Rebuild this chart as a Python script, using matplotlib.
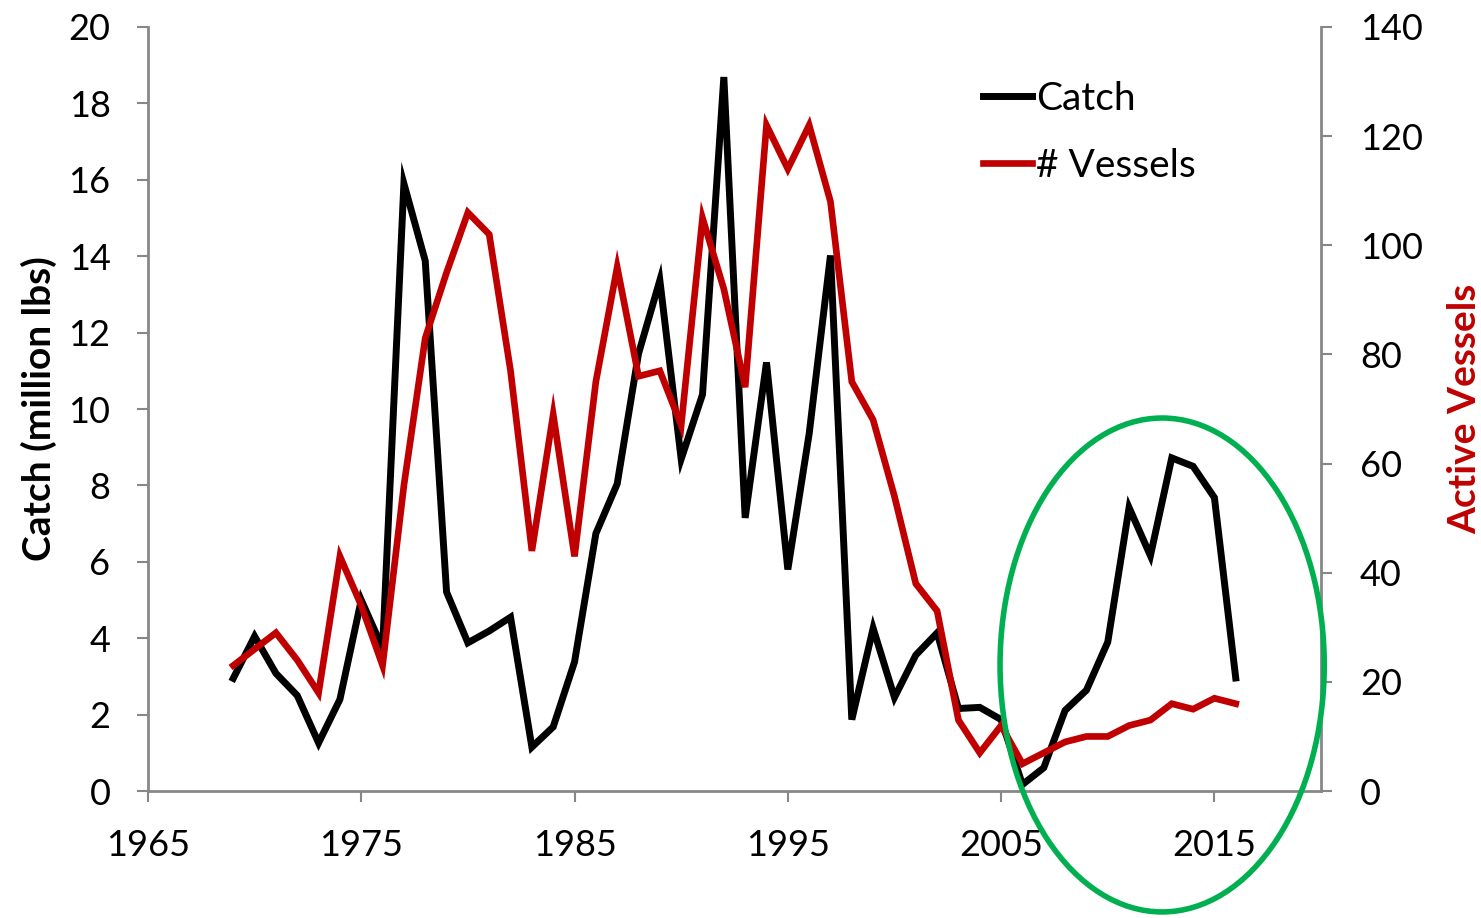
import matplotlib
matplotlib.use("Agg")
import matplotlib.pyplot as plt
from matplotlib.patches import Ellipse

plt.rcParams['font.family'] = ['Lato', 'DejaVu Sans']

years = list(range(1969, 2017))
catch = [2.95, 4.05, 3.08, 2.50, 1.26, 2.40, 5.00, 3.74, 15.9, 13.88,
         5.21, 3.88, 4.19, 4.55, 1.15, 1.68, 3.38, 6.74, 8.04, 11.45,
         13.37, 8.69, 10.38, 18.69, 7.15, 11.22, 5.80, 9.35, 14.02, 1.87,
         4.26, 2.45, 3.56, 4.14, 2.16, 2.19, 1.87, 0.17, 0.61, 2.11,
         2.64, 3.90, 7.42, 6.16, 8.72, 8.50, 7.68, 2.96]
vessels = [23, 26, 29, 24, 18, 43, 34, 23, 56, 83,
           95, 106, 102, 77, 44, 69, 43, 75, 96, 76,
           77, 67, 105, 92, 74, 122, 114, 122, 108, 75,
           68, 54, 38, 33, 13, 7, 12, 5, 7, 9,
           10, 10, 12, 13, 16, 15, 17, 16]

x_ticks = [1965, 1975, 1985, 1995, 2005, 2015]
left_ticks = list(range(0, 21, 2))
right_ticks = list(range(0, 141, 20))

# highlight ellipse (data units of the vessel axis)
ell_center = (2012.55, 23.1)
ell_width = 15.2
ell_height = 90.5

gray = '#878787'
red = '#C00000'
green = '#00B050'

fig = plt.figure(figsize=(14.81, 9.18), dpi=100)
ax = fig.add_axes([0.0999, 0.1383, 0.7921, 0.8323])
ax2 = ax.twinx()

ax.plot(years, catch, color='black', lw=5, solid_joinstyle='miter', label='Catch')
ax2.plot(years, vessels, color=red, lw=4.8, solid_joinstyle='miter', label='# Vessels')

ax.set_xlim(1965, 2020)
ax.set_ylim(0, 20)
ax2.set_ylim(0, 140)
ax.set_xticks(x_ticks)
ax.set_yticks(left_ticks)
ax2.set_yticks(right_ticks)

for a in (ax, ax2):
    for s in a.spines.values():
        s.set_color(gray)
        s.set_linewidth(2)
    a.spines['top'].set_visible(False)
ax.spines['right'].set_visible(False)
ax2.spines['left'].set_visible(False)
ax2.spines['bottom'].set_visible(False)

ax.tick_params(axis='y', direction='out', length=8, width=1.5, color=gray,
               labelsize=26, pad=19)
ax.tick_params(axis='x', direction='out', length=8, width=1.5, color=gray,
               labelsize=26, pad=19)
ax2.tick_params(axis='y', direction='out', length=8, width=1.5, color=gray,
                labelsize=26, pad=20)

ax.set_ylabel('Catch (million lbs)', fontsize=28, fontweight='bold')
ax.yaxis.set_label_coords(-0.0776, 0.5)
ax2.set_ylabel('Active Vessels', fontsize=28, fontweight='bold', color=red)
ax2.yaxis.set_label_coords(1.1074, 0.5)

ell = Ellipse(ell_center, ell_width, ell_height, fill=False, edgecolor=green,
              lw=4, clip_on=False, zorder=10)
ax2.add_patch(ell)

h1, l1 = ax.get_legend_handles_labels()
h2, l2 = ax2.get_legend_handles_labels()
leg = ax2.legend(h1 + h2, l1 + l2, loc='upper left', bbox_to_anchor=(0.6985, 0.95),
                 frameon=False, fontsize=28, handlelength=1.25, handletextpad=0.12,
                 labelspacing=0.8, borderaxespad=0)

fig.savefig('out.png', dpi=100)
